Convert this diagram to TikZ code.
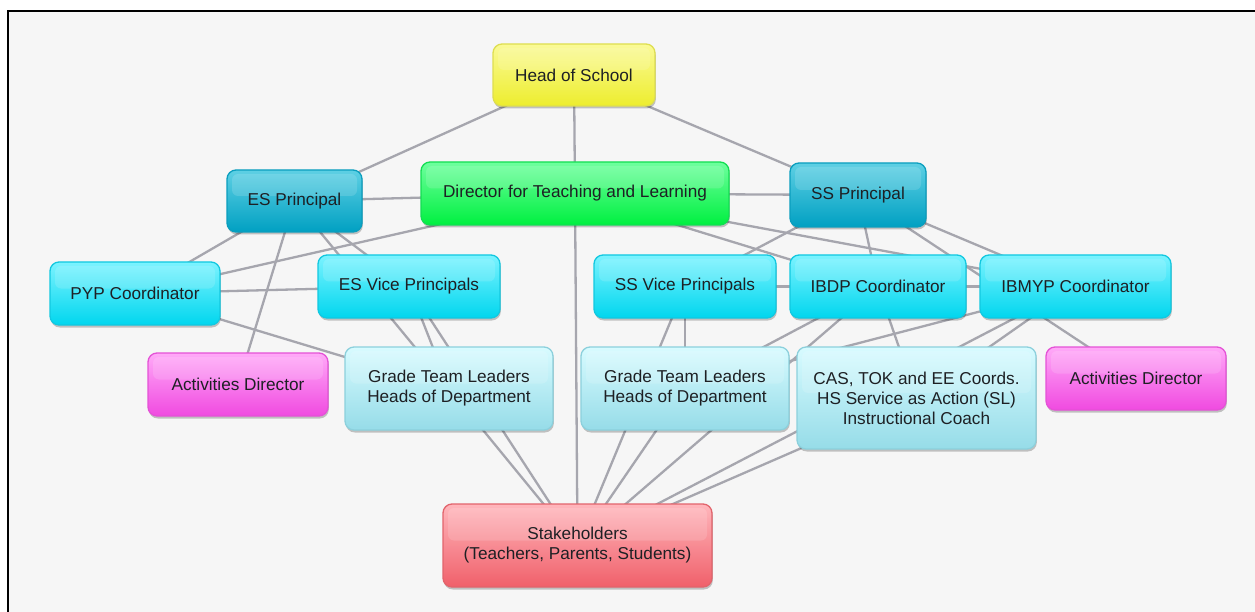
\documentclass[tikz,border=0pt]{standalone}
\usepackage{fontspec}
\setmainfont{Liberation Sans}
\usetikzlibrary{shadows}

% palette
\definecolor{ink}{HTML}{1E2024}
\definecolor{paper}{HTML}{F6F6F6}
\definecolor{linkgray}{HTML}{A6A6AE}
\definecolor{yelT}{HTML}{FAFA96}\definecolor{yelB}{HTML}{EDED2E}\definecolor{yelD}{HTML}{DEDE50}
\definecolor{grnT}{HTML}{6EFF9E}\definecolor{grnB}{HTML}{00F040}\definecolor{grnD}{HTML}{12DE52}
\definecolor{tealT}{HTML}{5ED0E4}\definecolor{tealB}{HTML}{00A0C2}\definecolor{tealD}{HTML}{0A9EBE}
\definecolor{cyanT}{HTML}{7CF3FF}\definecolor{cyanB}{HTML}{00D6EE}\definecolor{cyanD}{HTML}{12C8E0}
\definecolor{magT}{HTML}{FFAAF8}\definecolor{magB}{HTML}{F04AE0}\definecolor{magD}{HTML}{E452D6}
\definecolor{paleT}{HTML}{D8FBFF}\definecolor{paleB}{HTML}{96DCE8}\definecolor{paleD}{HTML}{8CD0DC}
\definecolor{redT}{HTML}{FFB6BC}\definecolor{redB}{HTML}{F0606A}\definecolor{redD}{HTML}{E2646C}

\pgfdeclarelayer{bg}
\pgfdeclarelayer{edges}
\pgfsetlayers{bg,edges,main}

\tikzset{
  card/.style={rounded corners=9pt, line width=1.3pt, align=center, inner sep=0pt,
    text=ink, font=\fontsize{17.2}{20}\selectfont,
    drop shadow={shadow xshift=0.8pt, shadow yshift=-2.5pt, opacity=0.22, fill=black},
    path picture={
      \fill[white, opacity=0.14, rounded corners=6pt]
        ([shift={(5pt,-4pt)}]path picture bounding box.north west) rectangle
        ([shift={(-5pt,5pt)}]path picture bounding box.east);
    }},
  yellowcard/.style={card, draw=yelD, top color=yelT, bottom color=yelB},
  greencard/.style={card, draw=grnD, top color=grnT, bottom color=grnB},
  tealcard/.style={card, draw=tealD, top color=tealT, bottom color=tealB},
  cyancard/.style={card, draw=cyanD, top color=cyanT, bottom color=cyanB},
  magcard/.style={card, draw=magD, top color=magT, bottom color=magB},
  palecard/.style={card, draw=paleD, top color=paleT, bottom color=paleB},
  redcard/.style={card, draw=redD, top color=redT, bottom color=redB},
  link/.style={draw=linkgray, line width=2.3pt},
}

\begin{document}
\begin{tikzpicture}[x=1pt, y=-1pt]
\useasboundingbox (0,0) rectangle (1255,612);

\begin{pgfonlayer}{bg}
  \fill[white] (0,0) rectangle (1255,612);
  \fill[paper] (8,11) rectangle (1255,612);
  \draw[black, line width=2pt] (8,612) -- (8,11) -- (1255,11);
\end{pgfonlayer}

% leadership
\node[yellowcard, minimum width=162pt, minimum height=62pt] (hos) at (574,75) {Head of School};
\node[greencard, minimum width=308pt, minimum height=63pt] (dtl) at (575,193.5) {Director for Teaching and Learning};
\node[tealcard, minimum width=135pt, minimum height=62pt] (esp) at (294.5,201) {ES Principal};
\node[tealcard, minimum width=136pt, minimum height=64pt] (ssp) at (858,195) {SS Principal};

% coordinators and vice principals
\node[cyancard, minimum width=170pt, minimum height=63pt] (pyp) at (135,293.5) {PYP Coordinator};
\node[cyancard, minimum width=182pt, minimum height=63pt] (esvp) at (409,286.5) {ES Vice Principals};
\node[cyancard, minimum width=182pt, minimum height=63pt] (ssvp) at (685,286.5) {SS Vice Principals};
\node[cyancard, minimum width=176pt, minimum height=63pt] (ibdp) at (878,286.5) {IBDP Coordinator};
\node[cyancard, minimum width=191pt, minimum height=63pt] (ibmyp) at (1075.5,286.5) {IBMYP Coordinator};

% third tier
\node[magcard, minimum width=180pt, minimum height=63pt] (adl) at (238,384.5) {Activities Director};
\node[palecard, minimum width=208pt, minimum height=83pt] (gtll) at (449,388.5) {Grade Team Leaders\\Heads of Department};
\node[palecard, minimum width=208pt, minimum height=83pt] (gtlm) at (685,388.5) {Grade Team Leaders\\Heads of Department};
\node[palecard, minimum width=239pt, minimum height=102pt] (cas) at (916.5,398) {CAS, TOK and EE Coords.\\HS Service as Action (SL)\\Instructional Coach};
\node[magcard, minimum width=180pt, minimum height=63pt] (adr) at (1136,378.5) {Activities Director};

% base
\node[redcard, minimum width=269pt, minimum height=83pt] (stake) at (577.5,545.5) {Stakeholders\\(Teachers, Parents, Students)};

% connectors, centre to centre, hidden under the cards
\begin{pgfonlayer}{edges}
  \foreach \a/\b in {hos/esp, hos/dtl, hos/ssp, esp/dtl, dtl/ssp,
      esp/pyp, esp/adl, esp/esvp, esp/gtll,
      dtl/pyp, pyp/esvp, pyp/gtll,
      esvp/gtll, esvp/stake, gtll/stake, dtl/stake,
      dtl/ibdp, dtl/ibmyp,
      ssp/ssvp, ssp/ibdp, ssp/ibmyp, ssp/adr,
      ssvp/ibdp, ibdp/ibmyp, ssvp/gtlm, ssvp/stake, gtlm/stake,
      ibdp/gtlm, ibdp/stake, ibdp/cas,
      ibmyp/gtlm, ibmyp/cas, ibmyp/stake, cas/stake}
    \draw[link] (\a.center) -- (\b.center);
\end{pgfonlayer}
\end{tikzpicture}
\end{document}
